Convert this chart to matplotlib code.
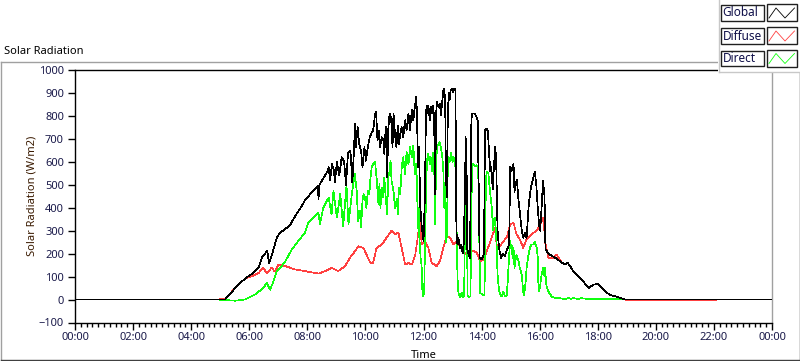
import matplotlib
matplotlib.use('Agg')
import matplotlib.pyplot as plt
from matplotlib.patches import Rectangle
from matplotlib.lines import Line2D
from matplotlib.ticker import MultipleLocator, FuncFormatter

plt.rcParams['font.family'] = ['Noto Sans', 'DejaVu Sans']

# time in minutes after midnight, values in W/m2
global_t = [0, 310, 331, 352, 365, 379, 386, 397, 401, 407, 417, 424, 434,
            445, 455, 462, 469, 476, 483, 493, 502, 503, 505, 514, 522, 524, 527, 531, 535, 537, 541, 546, 551, 556,
            560, 564, 569, 573, 577,
            578, 580, 584, 587, 591, 594, 598, 601, 605, 609, 613, 616, 620, 622, 625, 628, 630, 634, 637, 639, 642,
            645, 647, 650, 653, 656, 658, 661, 664, 667, 669, 672, 675, 678, 682, 685, 689, 692, 696, 699, 702, 705,
            707, 708, 711, 713, 716, 720,
            723, 725, 727, 729, 730, 733, 735, 738, 740, 742, 744, 746, 748, 751, 754, 756, 759, 761, 763, 765, 766,
            767, 769, 770, 772, 774, 776, 779, 781, 784, 786, 788, 790, 792, 795, 798, 801, 803, 806, 807, 809, 810,
            813, 816, 819, 821, 825, 829, 832, 834, 836, 840, 845, 847, 850, 853, 856, 858, 860, 863, 865,
            868, 870, 873, 876, 880, 884, 888, 892, 897, 899, 902, 906, 908, 910, 913, 916, 919, 923, 926, 930, 933,
            937, 940, 943, 947, 950, 953, 956, 959, 961, 964, 967, 970, 972, 978, 985, 992, 1002,
            1012, 1018, 1023, 1030, 1040, 1050, 1061, 1071, 1081, 1092, 1105, 1123, 1136, 1440]
global_v = [0, 0, 50, 93, 111, 138, 182, 212, 160, 196, 270, 292, 306,
            327, 364, 386, 409, 437, 452, 474, 496, 437, 500, 532, 560, 577, 520, 591, 560, 510, 600, 540, 620, 600,
            500, 640, 650, 510, 680,
            766, 664, 751, 678, 649, 576, 664, 605, 664, 707, 729, 737, 810, 817, 693, 737, 664, 707, 693, 635, 751,
            532, 737, 810, 795, 664, 810, 722, 664, 759, 678, 722, 751, 707, 781, 737, 810, 737, 825, 781, 839, 883,
            781, 576, 664, 415, 327, 254,
            459, 810, 846, 810, 846, 781, 839, 810, 846, 781, 459, 810, 860, 839, 853, 803, 868, 912, 920, 840, 500,
            650, 444, 780, 900, 870, 912, 920, 905, 920, 912, 300, 240, 269, 225, 240, 200, 240, 500, 707, 600, 225,
            196, 181, 790, 810, 810, 800, 780, 500, 181, 174, 200, 740, 745, 735, 620, 560, 580, 480, 560,
            664, 620, 300, 225, 182, 200, 190, 215, 240, 580, 560, 591, 470, 500, 520, 440, 380, 300, 269, 290, 269,
            400, 460, 500, 530, 556, 500, 400, 320, 300, 400, 518, 450, 220, 200, 190, 182, 167,
            152, 160, 145, 122, 101, 79, 50, 65, 68, 42, 20, 10, 0, 0]

diffuse_t = [295, 310, 331, 352, 365, 379, 389, 396, 406, 413, 420, 434, 455, 475, 503, 517, 530, 544, 558, 568,
             579, 585, 596, 610, 616, 623, 634, 644, 654, 661, 668, 675, 682, 689, 696, 703, 709, 713, 716, 723,
             730, 737, 747, 754, 761, 768, 775, 782, 789, 795, 802, 809, 816, 823, 830, 837, 844, 851, 861, 868,
             871, 878, 885, 892, 899, 906, 912, 919, 926, 933, 943, 954, 961, 968, 971, 978, 988, 995, 1006,
             1012, 1018, 1023, 1030, 1040, 1050, 1061, 1071, 1081, 1092, 1105, 1123, 1136, 1150, 1325]
diffuse_v = [0, 3, 50, 93, 101, 115, 138, 115, 138, 122, 152, 146, 131, 124, 113, 124, 138, 124, 146, 182,
             212, 232, 225, 160, 160, 225, 240, 270, 300, 285, 292, 225, 152, 160, 152, 196, 284, 372, 240, 254,
             225, 160, 146, 167, 225, 276, 270, 240, 254, 232, 212, 196, 205, 212, 205, 167, 174, 212, 270, 313,
             240, 232, 254, 270, 327, 335, 285, 262, 225, 262, 285, 300, 327, 357, 254, 182, 182, 196, 160,
             152, 160, 145, 122, 101, 79, 50, 65, 68, 42, 20, 10, 0, -4, -4]

direct_t = [295, 310, 331, 351, 372, 389, 396, 403, 410, 417, 424, 434, 448, 461, 475, 482, 493, 503, 506, 513,
            520, 524, 530, 534, 541, 548, 554, 561, 565, 572,
            578, 582, 585, 589, 591, 594, 596, 599, 602, 605, 608, 610, 613, 616, 620, 623, 627, 629, 631, 634,
            637, 639, 642, 645, 647, 649, 652, 654, 658, 661, 665, 667, 669, 672, 675, 678, 682, 685, 689, 692,
            696, 699, 702, 705, 707, 708, 710, 711, 714, 716, 718, 720, 722,
            723, 725, 727, 730, 733, 735, 738, 740, 742, 744, 746, 748, 751, 753, 756, 759, 761, 763, 765, 766,
            767, 769, 770, 771, 774, 777, 780, 782, 785, 787, 789, 791, 793, 796, 799, 802, 804, 806, 808, 810,
            811, 814, 817, 820, 822, 826, 830, 833, 835, 837, 842, 846, 849, 851, 854, 857, 859, 861, 864, 866,
            868, 871, 873, 876, 879, 881, 885, 888, 892, 894, 897, 899, 901, 902, 904, 906, 908, 910, 912, 916,
            919, 923, 926, 928, 931, 933, 937, 940, 943, 947, 950, 954, 956, 957, 959, 961, 964, 967, 970, 971,
            974, 978, 985, 992, 1006, 1012, 1020, 1025, 1030, 1040, 1045, 1060, 1100, 1140]
direct_v = [0, -2, -5, 0, 22, 50, 72, 43, 79, 124, 138, 165, 218, 254, 291, 335, 357, 379, 327, 400,
            430, 444, 370, 474, 357, 460, 320, 496, 327, 460,
            547, 474, 342, 386, 313, 430, 459, 444, 400, 474, 459, 518, 576, 591, 598, 532, 415, 503, 400, 488,
            444, 532, 444, 371, 532, 547, 605, 518, 474, 400, 440, 371, 488, 459, 576, 620, 547, 642, 590, 664,
            620, 671, 547, 590, 474, 313, 400, 284, 182, 152, 20, 13, 79,
            269, 420, 605, 635, 590, 620, 560, 640, 600, 330, 600, 664, 678, 686, 664, 620, 560, 400, 500, 250,
            420, 270, 560, 620, 600, 640, 600, 620, 590, 560, 200, 50, 20, 10, 30, 10, 20, 400, 600, 300,
            20, 10, 15, 560, 590, 580, 585, 570, 300, 30, 20, 20, 530, 556, 550, 480, 440, 400, 300, 350,
            357, 240, 108, 42, 20, 13, 35, 13, 20, 79, 196, 254, 225, 240, 182, 225, 137, 170, 196, 170,
            137, 108, 35, 20, 79, 137, 196, 225, 240, 240, 250, 225, 182, 79, 35, 60, 108, 137, 100, 137,
            60, 35, 13, 6, 5, 2, 6, 3, 6, 3, 6, 3, 3, 0]

series_names = ['Global', 'Diffuse', 'Direct']
series_colors = ['#000000', '#ff4040', '#10ff10']

W, H = 800, 361
def fx(x):
    return x / W
def fy(y):
    return 1 - y / H

fig = plt.figure(figsize=(W / 100, H / 100), dpi=100)
fig.patch.set_facecolor('white')

# outer panel frame
fig.add_artist(Line2D([fx(0.5), fx(799.5)], [fy(61.5), fy(61.5)], color='#a0a0a0', lw=1))
fig.add_artist(Line2D([fx(0.5), fx(0.5)], [fy(61.5), fy(359.5)], color='#a0a0a0', lw=1))
fig.add_artist(Line2D([fx(0.5), fx(799.5)], [fy(359.5), fy(359.5)], color='#404040', lw=1))
fig.add_artist(Line2D([fx(799.5), fx(799.5)], [fy(61.5), fy(359.5)], color='#404040', lw=1))

fig.text(fx(4), fy(51), 'Solar Radiation', fontsize=8, va='center', ha='left', color='#000000')

ax = fig.add_axes([fx(75), fy(322.5), 697 / W, 252.5 / H])
ax.plot(diffuse_t, diffuse_v, color=series_colors[1], lw=0.5, antialiased=False, zorder=2)
ax.plot(direct_t, direct_v, color=series_colors[2], lw=0.5, antialiased=False, zorder=3)
ax.plot(global_t, global_v, color=series_colors[0], lw=0.5, antialiased=False, zorder=4)

ax.set_xlim(0, 1440)
ax.set_ylim(-100, 1000)
ax.xaxis.set_major_locator(MultipleLocator(120))
ax.xaxis.set_minor_locator(MultipleLocator(12))
ax.xaxis.set_major_formatter(FuncFormatter(lambda v, p: '%02d:00' % ((int(round(v)) // 60) % 24)))
ax.yaxis.set_major_locator(MultipleLocator(100))
ax.tick_params(axis='both', which='major', labelsize=8, labelcolor='#1a1a4a', length=5, width=1, pad=2)
ax.tick_params(axis='x', which='minor', length=3, width=1)
ax.tick_params(axis='y', which='major', pad=3)
for s in ['left', 'bottom', 'top']:
    ax.spines[s].set_color('#000000')
ax.spines['right'].set_color('#a0a0a0')
for s in ax.spines.values():
    s.set_linewidth(1)
ax.set_xlabel('Time', fontsize=8, labelpad=5)
ax.set_ylabel('Solar Radiation (W/m2)', fontsize=8, labelpad=1, color='#3a1a00')

# legend panel in the top right corner
fig.add_artist(Rectangle((fx(718), fy(72)), 82 / W, 72 / H, facecolor='white', edgecolor='none', zorder=5))
fig.add_artist(Line2D([fx(718.5), fx(718.5)], [fy(0), fy(72)], color='#c8c8c8', lw=1, zorder=6))
fig.add_artist(Line2D([fx(718.5), fx(800)], [fy(71.5), fy(71.5)], color='#c8c8c8', lw=1, zorder=6))
row_tops = [4, 27, 49.5]
for i in range(3):
    top = row_tops[i]
    fig.add_artist(Rectangle((fx(720.5), fy(top + 16.5)), 43 / W, 15 / H, facecolor='white',
                             edgecolor='#202020', lw=1, zorder=7))
    fig.text(fx(722.5), fy(top + 9), series_names[i], fontsize=8.5, va='center', ha='left',
             color='#10104a', zorder=8)
    fig.add_artist(Rectangle((fx(767), fy(top + 17)), 30 / W, 16.5 / H, facecolor='white',
                             edgecolor='#202020', lw=1, zorder=7))
    zx = [fx(769), fx(776), fx(785), fx(794.5)]
    zy = [fy(top + 14), fy(top + 4), fy(top + 14), fy(top + 4)]
    fig.add_artist(Line2D(zx, zy, color=series_colors[i], lw=0.6, zorder=8))

fig.savefig('out.png', dpi=100)
